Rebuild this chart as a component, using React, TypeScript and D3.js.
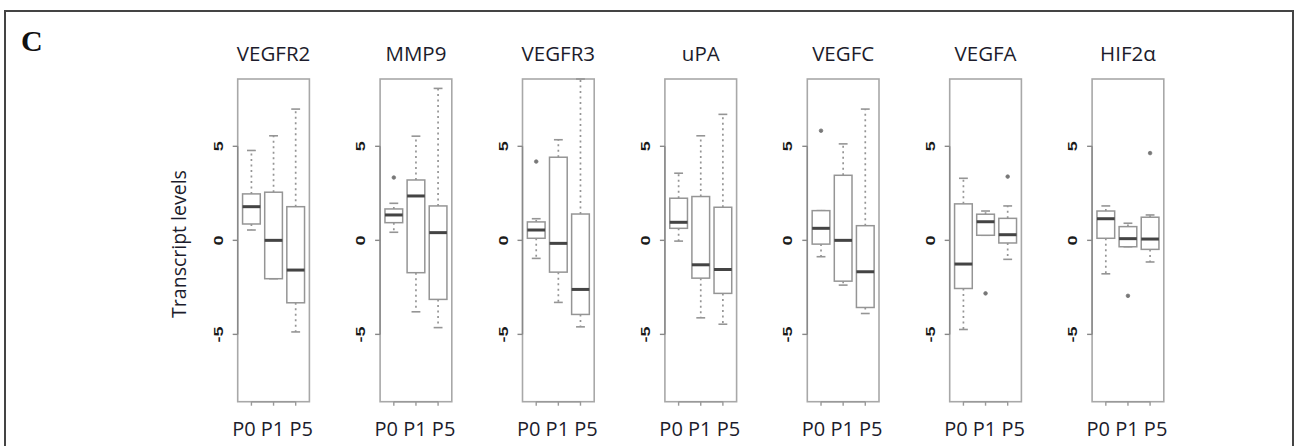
import React from "react";
import * as d3 from "d3";

const genes = ["VEGFR2", "MMP9", "VEGFR3", "uPA", "VEGFC", "VEGFA", "HIF2α"];
const groups = ["P0", "P1", "P5"];
const yTicks = [-5, 0, 5];

// per gene: [P0, P1, P5]
const whiskerLow = [
  [0.55, -2.04, -4.87],
  [0.43, -3.8, -4.64],
  [-0.96, -3.3, -4.6],
  [-0.04, -4.12, -4.46],
  [-0.87, -2.38, -3.89],
  [-4.74, 0.27, -1.01],
  [-1.78, -0.34, -1.15],
];
const q1 = [
  [0.87, -2.04, -3.32],
  [0.94, -1.72, -3.14],
  [0.11, -1.69, -3.94],
  [0.64, -2.01, -2.82],
  [-0.2, -2.17, -3.57],
  [-2.56, 0.27, -0.14],
  [0.11, -0.34, -0.48],
];
const medians = [
  [1.79, 0.0, -1.58],
  [1.35, 2.36, 0.41],
  [0.55, -0.16, -2.61],
  [0.96, -1.3, -1.55],
  [0.64, 0.0, -1.67],
  [-1.26, 0.99, 0.3],
  [1.15, 0.09, 0.07],
];
const q3 = [
  [2.47, 2.56, 1.79],
  [1.67, 3.21, 1.83],
  [0.98, 4.42, 1.4],
  [2.24, 2.33, 1.76],
  [1.58, 3.46, 0.78],
  [1.94, 1.39, 1.17],
  [1.56, 0.73, 1.23],
];
const whiskerHigh = [
  [4.78, 5.56, 6.98],
  [1.97, 5.54, 8.08],
  [1.15, 5.35, 8.58],
  [3.57, 5.56, 6.7],
  [1.58, 5.13, 6.98],
  [3.3, 1.56, 1.83],
  [1.83, 0.91, 1.35],
];
// outliers: [gene index, group index, value]
const outliers: [number, number, number][] = [
  [1, 0, 3.34],
  [2, 0, 4.19],
  [4, 0, 5.83],
  [5, 1, -2.82],
  [5, 2, 3.39],
  [6, 1, -2.95],
  [6, 2, 4.64],
];

const W = 1294;
const H = 446;
const panelLeft0 = 237.7;
const panelStep = 142.4;
const panelW = 71.7;
const plotTop = 79;
const plotBottom = 401.7;

const textColor = "#1c1c2c";
const grey = "#959595";
const frameGrey = "#a8a8a8";

export default function App() {
  const y = d3.scaleLinear().domain([-8.58, 8.58]).range([plotBottom, plotTop]);
  return (
    <svg
      width={W}
      height={H}
      style={{ position: "absolute", left: 0, top: 0, background: "#fff" }}
    >
      <rect x={0} y={0} width={W} height={H} fill="#fff" />
      <rect x={5} y={11} width={1288} height={460} fill="none" stroke="#444" strokeWidth={2} />
      <text
        x={21}
        y={51}
        fontFamily="'Liberation Serif', 'Times New Roman', serif"
        fontWeight="bold"
        fontSize={30}
        fill="#111"
      >
        C
      </text>
      <text
        transform={`translate(186,244) rotate(-90)`}
        textAnchor="middle"
        fontFamily="'Open Sans', sans-serif"
        fontSize={19.5}
        fill={textColor}
      >
        Transcript levels
      </text>
      {genes.map((g, gi) => {
        const left = panelLeft0 + gi * panelStep;
        const x = d3
          .scaleLinear()
          .domain([0.5 - 0.12, 3.5 + 0.12])
          .range([left, left + panelW]);
        const bw = 0.8 * (x(2) - x(1));
        const cx = left + panelW / 2;
        return (
          <g key={g}>
            <text
              x={cx}
              y={61}
              textAnchor="middle"
              fontFamily="'Open Sans', sans-serif"
              fontSize={20.5}
              fill={textColor}
            >
              {g}
            </text>
            <rect
              x={left}
              y={plotTop}
              width={panelW}
              height={plotBottom - plotTop}
              fill="none"
              stroke={frameGrey}
              strokeWidth={1.6}
            />
            {/* y axis */}
            <line x1={left} x2={left} y1={y(5)} y2={y(-5)} stroke="#888" strokeWidth={1.4} />
            {yTicks.map((t) => (
              <g key={t}>
                <line x1={left - 5} x2={left} y1={y(t)} y2={y(t)} stroke="#888" strokeWidth={1.4} />
                <text
                  transform={`translate(${left - 15},${y(t)}) rotate(-90) scale(1.45,1)`}
                  textAnchor="middle"
                  fontFamily="'Liberation Sans', Arial, sans-serif"
                  fontWeight="bold"
                  fontSize={12.5}
                  fill="#1a1a1a"
                >
                  {t}
                </text>
              </g>
            ))}
            {/* x axis */}
            <line x1={x(1)} x2={x(3)} y1={plotBottom} y2={plotBottom} stroke="#999" strokeWidth={1.4} />
            {groups.map((gr, k) => (
              <line
                key={gr}
                x1={x(k + 1)}
                x2={x(k + 1)}
                y1={plotBottom}
                y2={plotBottom + 4}
                stroke="#999"
                strokeWidth={1.4}
              />
            ))}
            <text
              x={cx - 1}
              y={436}
              textAnchor="middle"
              fontFamily="'Open Sans', sans-serif"
              fontSize={20}
              fill={textColor}
            >
              {groups.join(" ")}
            </text>
            {groups.map((gr, k) => {
              const px = x(k + 1);
              const lo = whiskerLow[gi][k];
              const hi = whiskerHigh[gi][k];
              const a = q1[gi][k];
              const b = q3[gi][k];
              const m = medians[gi][k];
              return (
                <g key={gr}>
                  <line x1={px} x2={px} y1={y(b)} y2={y(hi)} stroke={grey} strokeWidth={1.7} strokeDasharray="2,3.5" />
                  <line x1={px} x2={px} y1={y(a)} y2={y(lo)} stroke={grey} strokeWidth={1.7} strokeDasharray="2,3.5" />
                  <line x1={px - bw / 4} x2={px + bw / 4} y1={y(hi)} y2={y(hi)} stroke={grey} strokeWidth={1.6} />
                  <line x1={px - bw / 4} x2={px + bw / 4} y1={y(lo)} y2={y(lo)} stroke={grey} strokeWidth={1.6} />
                  <rect
                    x={px - bw / 2}
                    y={y(b)}
                    width={bw}
                    height={y(a) - y(b)}
                    fill="#fff"
                    stroke={grey}
                    strokeWidth={1.5}
                  />
                  <line x1={px - bw / 2} x2={px + bw / 2} y1={y(m)} y2={y(m)} stroke="#444" strokeWidth={3} />
                </g>
              );
            })}
            {outliers
              .filter((o) => o[0] === gi)
              .map((o, j) => (
                <circle key={j} cx={x(o[1] + 1)} cy={y(o[2])} r={1.8} fill="#777" stroke="#777" strokeWidth={0.8} />
              ))}
          </g>
        );
      })}
    </svg>
  );
}
